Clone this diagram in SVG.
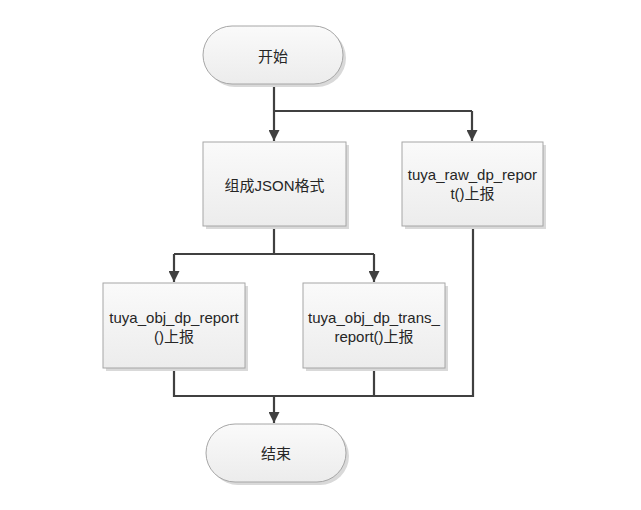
<svg xmlns="http://www.w3.org/2000/svg" width="641" height="510" viewBox="0 0 641 510">
<style>
.box{fill:url(#g);stroke:#a6a6a6;stroke-width:1}
.sh{fill:#d9d9d9}
.t{font-family:"Liberation Sans","Noto Sans CJK SC",sans-serif;font-size:15px;fill:#262626;text-anchor:middle;dominant-baseline:central}
.c{fill:none;stroke:#404040;stroke-width:2.2}
</style>
<defs>
<linearGradient id="g" x1="0" y1="0" x2="0" y2="1">
<stop offset="0" stop-color="#fafafa"/>
<stop offset="1" stop-color="#ececec"/>
</linearGradient>
<marker id="a" viewBox="0 0 10 10" refX="10" refY="5" markerWidth="5" markerHeight="5" orient="auto" markerUnits="strokeWidth">
<path d="M0,0 L10,5 L0,10 z" fill="#404040"/>
</marker>
</defs>
<rect width="641" height="510" fill="#fff"/>
<g id="connectors">
<path class="c" d="M274,84 V111 M274,111 H472"/>
<path class="c" d="M274,111 V141" marker-end="url(#a)"/>
<path class="c" d="M472,111 V141" marker-end="url(#a)"/>
<path class="c" d="M274,226 V254 M174,254 H374"/>
<path class="c" d="M174,254 V282" marker-end="url(#a)"/>
<path class="c" d="M374,254 V282" marker-end="url(#a)"/>
<path class="c" d="M174,368 V396 H473 V226 M374,368 V396"/>
<path class="c" d="M274,396 V423" marker-end="url(#a)"/>
</g>
<g id="start">
<rect class="sh" x="206" y="29" width="140" height="58" rx="29"/>
<rect class="box" x="203" y="26" width="140" height="58" rx="29"/>
<text class="t" x="273" y="56">开始</text>
</g>
<g id="json">
<rect class="sh" x="206" y="145" width="143" height="84"/>
<rect class="box" x="203" y="142" width="143" height="84"/>
<text class="t" x="274.5" y="185">组成JSON格式</text>
</g>
<g id="raw">
<rect class="sh" x="405" y="145" width="141" height="84"/>
<rect class="box" x="402" y="142" width="141" height="84"/>
<text class="t" x="472.5" y="174">tuya_raw_dp_repor</text>
<text class="t" x="472.5" y="193">t()上报</text>
</g>
<g id="obj">
<rect class="sh" x="106" y="286" width="142" height="85"/>
<rect class="box" x="103" y="283" width="142" height="85"/>
<text class="t" x="174" y="317">tuya_obj_dp_report</text>
<text class="t" x="174" y="336">()上报</text>
</g>
<g id="trans">
<rect class="sh" x="306" y="286" width="142" height="85"/>
<rect class="box" x="303" y="283" width="142" height="85"/>
<text class="t" x="374" y="317">tuya_obj_dp_trans_</text>
<text class="t" x="374" y="336">report()上报</text>
</g>
<g id="end">
<rect class="sh" x="209" y="427" width="140" height="58" rx="29"/>
<rect class="box" x="206" y="424" width="140" height="58" rx="29"/>
<text class="t" x="276" y="453">结束</text>
</g>
</svg>
